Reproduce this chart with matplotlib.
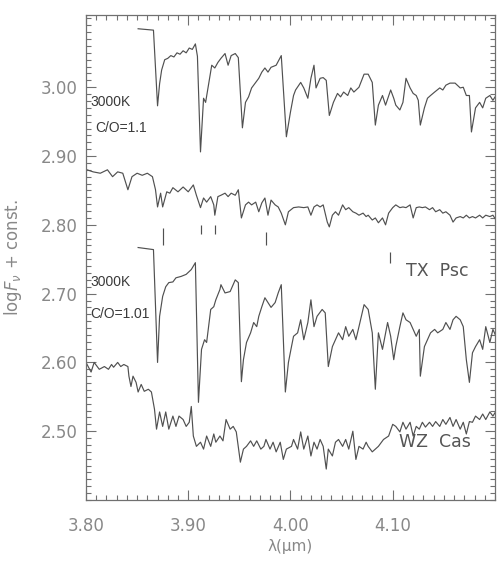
import numpy as np
import matplotlib.pyplot as plt

# wavelength (micron) / log F_nu pairs, read per spectrum
# model 3000K, C/O=1.1
mod1_wl = [3.851, 3.866, 3.870, 3.872, 3.874, 3.877, 3.880, 3.883, 3.886, 3.889, 3.892, 3.895,
           3.898, 3.901, 3.904, 3.907, 3.909, 3.912, 3.915, 3.917, 3.920, 3.923, 3.926, 3.929,
           3.932, 3.936, 3.939, 3.942, 3.946, 3.949, 3.953, 3.956, 3.959, 3.962, 3.966, 3.969,
           3.972, 3.975, 3.978, 3.981, 3.986, 3.991, 3.996, 4.000, 4.003, 4.005, 4.010, 4.013,
           4.017, 4.020, 4.023, 4.025, 4.029, 4.032, 4.035, 4.038, 4.042, 4.046, 4.049, 4.052,
           4.056, 4.059, 4.062, 4.067, 4.072, 4.076, 4.080, 4.083, 4.086, 4.090, 4.093, 4.098,
           4.101, 4.103, 4.107, 4.110, 4.113, 4.117, 4.120, 4.123, 4.125, 4.127, 4.131, 4.134,
           4.137, 4.141, 4.146, 4.149, 4.152, 4.156, 4.161, 4.166, 4.169, 4.172, 4.175, 4.177,
           4.181, 4.185, 4.188, 4.191, 4.195, 4.198, 4.201]
mod1_f = [3.085, 3.083, 2.973, 3.005, 3.025, 3.040, 3.042, 3.046, 3.044, 3.050, 3.048, 3.053,
          3.050, 3.057, 3.055, 3.063, 3.045, 2.906, 2.984, 2.978, 3.005, 3.032, 3.028, 3.036,
          3.042, 3.049, 3.032, 3.046, 3.049, 3.043, 2.941, 2.978, 2.986, 2.999, 3.007, 3.013,
          3.022, 3.028, 3.022, 3.029, 3.032, 3.046, 2.928, 2.964, 2.988, 2.996, 3.007, 2.999,
          2.984, 3.013, 3.032, 2.999, 3.013, 3.014, 3.010, 2.959, 2.978, 2.991, 2.986, 2.993,
          2.988, 2.999, 2.993, 3.000, 3.019, 3.019, 3.007, 2.945, 2.974, 2.988, 2.974, 2.996,
          2.984, 2.974, 2.967, 2.978, 3.013, 2.999, 2.991, 2.988, 2.981, 2.945, 2.970, 2.984,
          2.988, 2.993, 2.999, 2.996, 3.003, 3.006, 3.006, 2.999, 3.000, 2.988, 2.988, 2.935,
          2.970, 2.978, 2.970, 2.984, 2.988, 2.981, 2.988]

# TX Psc
txpsc_wl = [3.801, 3.807, 3.814, 3.821, 3.826, 3.831, 3.836, 3.841, 3.845, 3.850, 3.855, 3.860,
            3.865, 3.868, 3.870, 3.873, 3.875, 3.879, 3.882, 3.885, 3.890, 3.895, 3.900, 3.905,
            3.908, 3.912, 3.915, 3.918, 3.922, 3.925, 3.926, 3.929, 3.932, 3.936, 3.939, 3.942,
            3.946, 3.949, 3.952, 3.956, 3.959, 3.962, 3.966, 3.969, 3.972, 3.975, 3.978, 3.981,
            3.985, 3.988, 3.991, 3.995, 3.998, 4.003, 4.008, 4.013, 4.017, 4.020, 4.023, 4.026,
            4.029, 4.032, 4.036, 4.038, 4.041, 4.044, 4.047, 4.051, 4.054, 4.057, 4.061, 4.064,
            4.067, 4.071, 4.074, 4.076, 4.080, 4.083, 4.086, 4.090, 4.093, 4.096, 4.100, 4.103,
            4.107, 4.110, 4.113, 4.117, 4.120, 4.123, 4.126, 4.129, 4.132, 4.136, 4.139, 4.142,
            4.146, 4.149, 4.152, 4.156, 4.159, 4.162, 4.166, 4.169, 4.172, 4.175, 4.178, 4.181,
            4.185, 4.188, 4.191, 4.195, 4.198, 4.201]
txpsc_f = [2.880, 2.877, 2.875, 2.880, 2.870, 2.877, 2.875, 2.851, 2.870, 2.875, 2.872, 2.875,
           2.870, 2.851, 2.826, 2.846, 2.826, 2.848, 2.846, 2.854, 2.848, 2.855, 2.848, 2.858,
           2.843, 2.825, 2.839, 2.833, 2.841, 2.829, 2.814, 2.841, 2.843, 2.846, 2.841, 2.846,
           2.843, 2.851, 2.810, 2.829, 2.833, 2.829, 2.833, 2.819, 2.832, 2.839, 2.814, 2.836,
           2.829, 2.826, 2.817, 2.800, 2.819, 2.825, 2.826, 2.825, 2.826, 2.814, 2.826, 2.829,
           2.826, 2.829, 2.804, 2.797, 2.814, 2.819, 2.814, 2.829, 2.822, 2.825, 2.819, 2.817,
           2.814, 2.817, 2.812, 2.814, 2.807, 2.810, 2.803, 2.810, 2.800, 2.817, 2.825, 2.829,
           2.825, 2.826, 2.825, 2.829, 2.810, 2.825, 2.826, 2.825, 2.826, 2.822, 2.825, 2.819,
           2.822, 2.817, 2.819, 2.814, 2.804, 2.810, 2.812, 2.810, 2.814, 2.810, 2.812, 2.810,
           2.814, 2.810, 2.814, 2.812, 2.814, 2.807]

# line identification marks under TX Psc
id_wl = [3.8755, 3.9127, 3.9265, 3.9765, 4.097]
id_lo = [2.771, 2.786, 2.786, 2.771, 2.745]
id_hi = [2.796, 2.800, 2.800, 2.790, 2.761]

# model 3000K, C/O=1.01
mod2_wl = [3.851, 3.866, 3.870, 3.872, 3.875, 3.878, 3.881, 3.885, 3.888, 3.893, 3.898, 3.903,
           3.907, 3.910, 3.913, 3.916, 3.918, 3.922, 3.925, 3.927, 3.931, 3.932, 3.936, 3.941,
           3.946, 3.949, 3.952, 3.954, 3.957, 3.961, 3.964, 3.967, 3.969, 3.972, 3.975, 3.978,
           3.981, 3.985, 3.988, 3.991, 3.995, 3.998, 4.001, 4.003, 4.007, 4.010, 4.013, 4.017,
           4.020, 4.023, 4.026, 4.031, 4.034, 4.037, 4.041, 4.044, 4.047, 4.051, 4.054, 4.057,
           4.061, 4.064, 4.067, 4.072, 4.076, 4.080, 4.083, 4.086, 4.090, 4.095, 4.098, 4.101,
           4.103, 4.107, 4.110, 4.113, 4.117, 4.120, 4.123, 4.126, 4.127, 4.131, 4.134, 4.137,
           4.141, 4.144, 4.149, 4.152, 4.156, 4.159, 4.162, 4.166, 4.169, 4.172, 4.175, 4.178,
           4.181, 4.185, 4.188, 4.191, 4.195, 4.198, 4.201]
mod2_f = [2.767, 2.764, 2.600, 2.667, 2.696, 2.710, 2.716, 2.717, 2.723, 2.725, 2.728, 2.735,
          2.745, 2.542, 2.619, 2.633, 2.629, 2.677, 2.681, 2.691, 2.706, 2.713, 2.701, 2.703,
          2.720, 2.716, 2.572, 2.604, 2.629, 2.643, 2.658, 2.652, 2.667, 2.681, 2.694, 2.687,
          2.680, 2.687, 2.701, 2.713, 2.557, 2.600, 2.623, 2.638, 2.643, 2.662, 2.633, 2.658,
          2.691, 2.652, 2.667, 2.677, 2.672, 2.594, 2.623, 2.633, 2.643, 2.633, 2.652, 2.638,
          2.648, 2.633, 2.652, 2.684, 2.677, 2.643, 2.561, 2.643, 2.619, 2.658, 2.638, 2.604,
          2.623, 2.652, 2.672, 2.662, 2.658, 2.648, 2.638, 2.648, 2.580, 2.623, 2.633, 2.643,
          2.648, 2.643, 2.648, 2.658, 2.648, 2.662, 2.667, 2.662, 2.652, 2.604, 2.571, 2.614,
          2.623, 2.633, 2.619, 2.652, 2.629, 2.648, 2.638]

# WZ Cas
wzcas_wl = [3.800, 3.805, 3.808, 3.813, 3.818, 3.822, 3.825, 3.827, 3.831, 3.834, 3.837, 3.841,
            3.842, 3.844, 3.846, 3.849, 3.851, 3.854, 3.857, 3.861, 3.864, 3.867, 3.869, 3.872,
            3.875, 3.878, 3.881, 3.885, 3.888, 3.891, 3.895, 3.898, 3.901, 3.903, 3.905, 3.908,
            3.912, 3.915, 3.918, 3.922, 3.925, 3.927, 3.931, 3.934, 3.937, 3.941, 3.944, 3.947,
            3.951, 3.954, 3.957, 3.961, 3.964, 3.967, 3.971, 3.974, 3.976, 3.980, 3.983, 3.986,
            3.990, 3.993, 3.996, 4.001, 4.003, 4.007, 4.010, 4.013, 4.017, 4.020, 4.023, 4.026,
            4.029, 4.032, 4.035, 4.037, 4.041, 4.044, 4.047, 4.051, 4.054, 4.057, 4.061, 4.064,
            4.067, 4.071, 4.074, 4.076, 4.080, 4.083, 4.086, 4.091, 4.096, 4.100, 4.103, 4.107,
            4.110, 4.113, 4.117, 4.120, 4.123, 4.126, 4.129, 4.132, 4.136, 4.139, 4.142, 4.146,
            4.149, 4.152, 4.156, 4.159, 4.162, 4.166, 4.169, 4.172, 4.175, 4.178, 4.181, 4.185,
            4.188, 4.191, 4.195, 4.198, 4.201]
wzcas_f = [2.600, 2.586, 2.600, 2.590, 2.594, 2.590, 2.597, 2.593, 2.600, 2.594, 2.597, 2.594,
           2.580, 2.565, 2.580, 2.571, 2.557, 2.568, 2.558, 2.561, 2.557, 2.532, 2.503, 2.528,
           2.507, 2.528, 2.503, 2.522, 2.507, 2.522, 2.517, 2.507, 2.513, 2.536, 2.493, 2.478,
           2.484, 2.474, 2.493, 2.478, 2.496, 2.484, 2.493, 2.486, 2.517, 2.503, 2.507, 2.499,
           2.455, 2.474, 2.478, 2.486, 2.478, 2.486, 2.474, 2.478, 2.488, 2.474, 2.484, 2.470,
           2.484, 2.459, 2.474, 2.478, 2.488, 2.474, 2.499, 2.474, 2.493, 2.464, 2.484, 2.474,
           2.488, 2.478, 2.445, 2.474, 2.464, 2.484, 2.488, 2.478, 2.488, 2.474, 2.500, 2.459,
           2.478, 2.474, 2.484, 2.478, 2.470, 2.474, 2.478, 2.488, 2.493, 2.510, 2.507, 2.499,
           2.513, 2.503, 2.513, 2.493, 2.507, 2.503, 2.513, 2.506, 2.513, 2.507, 2.514, 2.507,
           2.517, 2.510, 2.520, 2.507, 2.517, 2.503, 2.513, 2.496, 2.514, 2.513, 2.522, 2.517,
           2.525, 2.517, 2.528, 2.522, 2.529]

xticks = [3.80, 3.90, 4.00, 4.10]
yticks = [2.50, 2.60, 2.70, 2.80, 2.90, 3.00]

line_c = '#505050'
axis_c = '#707070'
text_c = '#888888'

fig = plt.figure(figsize=(4.99, 5.62), dpi=100)
ax = fig.add_axes([0.1723, 0.1103, 0.8196, 0.8630])

for wl, f in [(mod1_wl, mod1_f), (txpsc_wl, txpsc_f), (mod2_wl, mod2_f), (wzcas_wl, wzcas_f)]:
    ax.plot(wl, f, color=line_c, lw=0.85)
ax.vlines(id_wl, id_lo, id_hi, color=line_c, lw=0.85)

# model labels
lab = dict(fontsize=10, color='#3a3a3a', va='center', family='Liberation Sans')
ax.text(3.8045, 2.978, '3000K', **lab)
ax.text(3.809, 2.941, 'C/O=1.1', **lab)
ax.text(3.8045, 2.717, '3000K', **lab)
ax.text(3.8045, 2.670, 'C/O=1.01', **lab)
# star names
ax.text(4.113, 2.733, 'TX  Psc', fontsize=12.5, color='#555555', va='center')
ax.text(4.106, 2.484, 'WZ  Cas', fontsize=12.5, color='#555555', va='center')

ax.set_xlim(3.80, 4.20)
ax.set_ylim(2.40, 3.105)
ax.set_xticks(xticks)
ax.set_xticklabels(['%.2f' % v for v in xticks])
ax.set_yticks(yticks)
ax.set_yticklabels(['%.2f' % v for v in yticks])
ax.set_xticks(np.arange(3.80, 4.2001, 0.01), minor=True)
ax.set_yticks(np.arange(2.40, 3.1001, 0.01), minor=True)
ax.tick_params(which='both', direction='in', top=True, right=True, colors=axis_c,
               labelcolor=text_c, labelsize=12, width=0.8)
ax.tick_params(which='major', length=7)
ax.tick_params(axis='x', which='major', pad=12)
ax.tick_params(axis='y', which='major', pad=6)
ax.tick_params(which='minor', length=3.5)
for sp in ax.spines.values():
    sp.set_color(axis_c)
    sp.set_linewidth(0.9)

ax.set_xlabel('λ(μm)', fontsize=11, color=text_c, labelpad=3)
ax.set_ylabel(r'log$F_\nu$ + const.', fontsize=12, color=text_c, labelpad=12)

fig.savefig('out.png', dpi=100)
